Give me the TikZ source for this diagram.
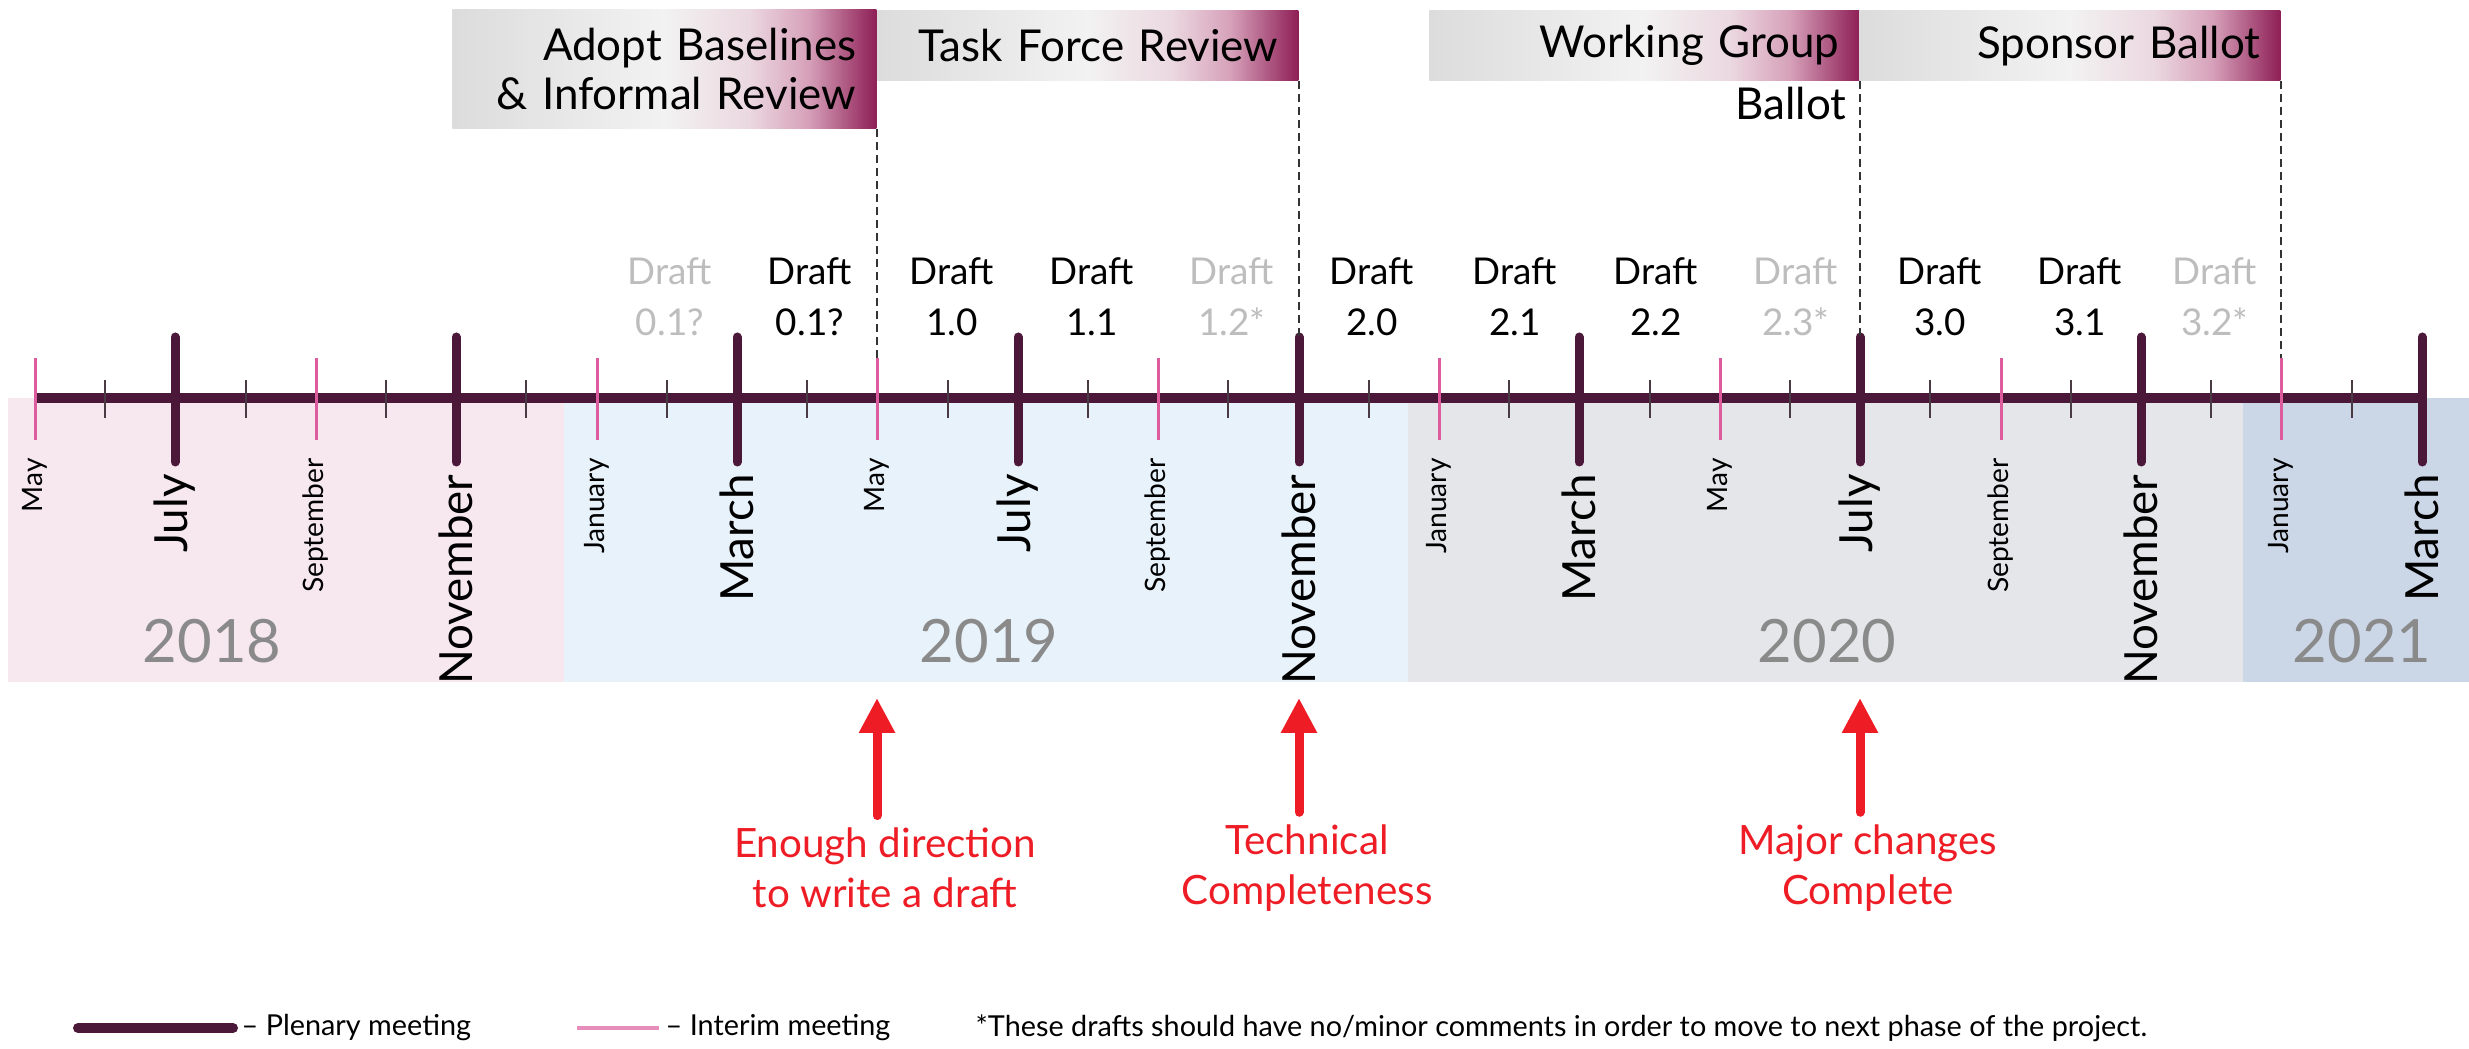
\documentclass[tikz,border=0pt]{standalone}
\usepackage{fontspec}
\setmainfont{Lato}
\usetikzlibrary{arrows.meta}
\usetikzlibrary{positioning}

\definecolor{plenarycol}{HTML}{4B1839}
\definecolor{interimcol}{HTML}{DD5C9E}
\definecolor{minorcol}{HTML}{4A3A44}
\definecolor{band18}{HTML}{F7E8EF}
\definecolor{band19}{HTML}{E8F2FA}
\definecolor{band20}{HTML}{E4E6E9}
\definecolor{band21}{HTML}{CBD6E7}
\definecolor{yeargray}{HTML}{8A8A8A}
\definecolor{draftgray}{HTML}{BDBDBD}
\definecolor{goalred}{HTML}{EE1C25}
\definecolor{phgray}{HTML}{DCDCDC}
\definecolor{phlight}{HTML}{F2F2F2}
\definecolor{phmid}{HTML}{EBD8E0}
\definecolor{phpink}{HTML}{D6A0B9}
\definecolor{phred}{HTML}{8E1F56}
\pgfdeclarehorizontalshading{phase}{100bp}{color(0bp)=(phgray); color(25bp)=(phgray); color(50bp)=(phlight); color(60bp)=(phmid); color(67bp)=(phpink); color(75bp)=(phred); color(100bp)=(phred)}

\tikzset{plenary/.style = {plenarycol, line width = 0.09cm, line cap = round}}
\tikzset{interim/.style = {interimcol, line width = 0.03cm}}
\tikzset{minor/.style = {minorcol, line width = 0.025cm}}
\tikzset{bigmonth/.style = {rotate = 90, anchor = east, text = black, inner xsep = 0.08cm, inner ysep = 0, font = \fontsize{13}{13}\selectfont}}
\tikzset{smallmonth/.style = {rotate = 90, anchor = east, text = black, inner xsep = 0.17cm, inner ysep = 0, font = \fontsize{8}{8}\selectfont}}
\tikzset{year/.style = {text = yeargray, font = \fontsize{17}{17}\selectfont}}
\tikzset{draft/.style = {align = center, font = \fontsize{10.5}{14.5}\selectfont}}
\tikzset{phasebox/.style = {shade, shading = phase, anchor = north east, inner xsep = 0.2cm, align = right, font = \fontsize{12.5}{14}\selectfont}}
\tikzset{phaseend/.style = {black!80, line width = 0.02cm, dash pattern = on 0.08cm off 0.05cm}}
\tikzset{goal/.style = {text = goalred, align = center, font = \fontsize{11.5}{14.2}\selectfont}}
\tikzset{goalarrow/.style = {goalred, line width = 0.09cm, line cap = round, -{Triangle[length = 0.35cm, width = 0.34cm]}}}
\tikzset{keytext/.style = {anchor = west, inner xsep = 0.03cm, font = \fontsize{8.2}{8.2}\selectfont}}

\begin{document}
\begin{tikzpicture}
    \useasboundingbox (0, 0) rectangle (24.69, 10.48);

    \fill[band18] (0.08, 6.50) rectangle (5.64, 3.66);
    \fill[band19] (5.64, 6.50) rectangle (14.08, 3.66);
    \fill[band20] (14.08, 6.50) rectangle (22.43, 3.66);
    \fill[band21] (22.43, 6.50) rectangle (24.69, 3.66);

    \node[year] (y2018) at (2.12, 4.07) {2018};
    \node[year] (y2019) at (9.89, 4.07) {2019};
    \node[year] (y2020) at (18.27, 4.07) {2020};
    \node[year] (y2021) at (23.62, 4.07) {2021};

    \draw[plenarycol, line width = 0.10cm] (0.35, 6.50) -- (24.22, 6.50);

    \draw[minor] (1.05, 6.68) -- (1.05, 6.30);
    \draw[minor] (2.46, 6.68) -- (2.46, 6.30);
    \draw[minor] (3.86, 6.68) -- (3.86, 6.30);
    \draw[minor] (5.26, 6.68) -- (5.26, 6.30);
    \draw[minor] (6.67, 6.68) -- (6.67, 6.30);
    \draw[minor] (8.07, 6.68) -- (8.07, 6.30);
    \draw[minor] (9.48, 6.68) -- (9.48, 6.30);
    \draw[minor] (10.88, 6.68) -- (10.88, 6.30);
    \draw[minor] (12.28, 6.68) -- (12.28, 6.30);
    \draw[minor] (13.69, 6.68) -- (13.69, 6.30);
    \draw[minor] (15.09, 6.68) -- (15.09, 6.30);
    \draw[minor] (16.50, 6.68) -- (16.50, 6.30);
    \draw[minor] (17.90, 6.68) -- (17.90, 6.30);
    \draw[minor] (19.30, 6.68) -- (19.30, 6.30);
    \draw[minor] (20.71, 6.68) -- (20.71, 6.30);
    \draw[minor] (22.11, 6.68) -- (22.11, 6.30);
    \draw[minor] (23.52, 6.68) -- (23.52, 6.30);

    \draw[interim] (0.35, 6.90) -- (0.35, 6.08) node[smallmonth] (may18) {May};
    \draw[interim] (3.16, 6.90) -- (3.16, 6.08) node[smallmonth] (sep18) {September};
    \draw[interim] (5.97, 6.90) -- (5.97, 6.08) node[smallmonth] (jan19) {January};
    \draw[interim] (8.77, 6.90) -- (8.77, 6.08) node[smallmonth] (may19) {May};
    \draw[interim] (11.58, 6.90) -- (11.58, 6.08) node[smallmonth] (sep19) {September};
    \draw[interim] (14.39, 6.90) -- (14.39, 6.08) node[smallmonth] (jan20) {January};
    \draw[interim] (17.20, 6.90) -- (17.20, 6.08) node[smallmonth] (may20) {May};
    \draw[interim] (20.01, 6.90) -- (20.01, 6.08) node[smallmonth] (sep20) {September};
    \draw[interim] (22.81, 6.90) -- (22.81, 6.08) node[smallmonth] (jan21) {January};

    \draw[plenary] (1.75, 7.11) -- (1.75, 5.86) node[bigmonth] (jul18) {July};
    \draw[plenary] (4.56, 7.11) -- (4.56, 5.86) node[bigmonth] (nov18) {November};
    \draw[plenary] (7.37, 7.11) -- (7.37, 5.86) node[bigmonth] (mar19) {March};
    \draw[plenary] (10.18, 7.11) -- (10.18, 5.86) node[bigmonth] (jul19) {July};
    \draw[plenary] (12.99, 7.11) -- (12.99, 5.86) node[bigmonth] (nov19) {November};
    \draw[plenary] (15.79, 7.11) -- (15.79, 5.86) node[bigmonth] (mar20) {March};
    \draw[plenary] (18.60, 7.11) -- (18.60, 5.86) node[bigmonth] (jul20) {July};
    \draw[plenary] (21.41, 7.11) -- (21.41, 5.86) node[bigmonth] (nov20) {November};
    \draw[plenary] (24.22, 7.11) -- (24.22, 5.86) node[bigmonth] (mar21) {March};

    \node[draft, text = draftgray] (d01a) at (6.70, 7.51) {Draft\\0.1?};
    \node[draft] (d01b) at (8.10, 7.51) {Draft\\0.1?};
    \node[draft] (d10) at (9.52, 7.51) {Draft\\1.0};
    \node[draft] (d11) at (10.92, 7.51) {Draft\\1.1};
    \node[draft, text = draftgray] (d12) at (12.32, 7.51) {Draft\\1.2*};
    \node[draft] (d20) at (13.72, 7.51) {Draft\\2.0};
    \node[draft] (d21) at (15.15, 7.51) {Draft\\2.1};
    \node[draft] (d22) at (16.56, 7.51) {Draft\\2.2};
    \node[draft, text = draftgray] (d23) at (17.96, 7.51) {Draft\\2.3*};
    \node[draft] (d30) at (19.40, 7.51) {Draft\\3.0};
    \node[draft] (d31) at (20.80, 7.51) {Draft\\3.1};
    \node[draft, text = draftgray] (d32) at (22.15, 7.51) {Draft\\3.2*};

    \node[phasebox, text width = 3.84cm, minimum height = 1.19cm] (adopt) at (8.77, 10.39) {Adopt Baselines\\\& Informal Review};
    \node[phasebox, text width = 3.81cm, minimum height = 0.70cm] (tfr) at (12.99, 10.38) {Task Force Review};
    \node[phasebox, text width = 3.90cm, minimum height = 0.70cm] (wg) at (18.60, 10.38) {Working Group};
    \node[phasebox, text width = 3.81cm, minimum height = 0.70cm] (sb) at (22.81, 10.38) {Sponsor Ballot};
    \node[anchor = north east, inner xsep = 0.13cm, inner ysep = 0.05cm, font = \fontsize{12.5}{14}\selectfont] (wgballot) at (wg.south east) {Ballot};

    \coordinate (endadopt) at (8.77, 6.90);
    \coordinate (endtfr) at (12.99, 7.11);
    \coordinate (endwg) at (18.60, 7.11);
    \coordinate (endsb) at (22.81, 6.90);
    \draw[phaseend] (adopt.south east) -- (endadopt);
    \draw[phaseend] (tfr.south east) -- (endtfr);
    \draw[phaseend] (wg.south east) -- (endwg);
    \draw[phaseend] (sb.south east) -- (endsb);

    \node[goal] (draftgoal) at (8.85, 1.80) {Enough direction\\to write a draft};
    \node[goal] (techgoal) at (13.07, 1.80) {Technical\\Completeness};
    \node[goal] (majorgoal) at (18.68, 1.80) {Major changes\\Complete};
    \coordinate (drafttip) at (8.77, 3.50);
    \coordinate (techtip) at (12.99, 3.50);
    \coordinate (majortip) at (18.60, 3.50);
    \draw[goalarrow] (draftgoal.north -| drafttip) -- (drafttip);
    \draw[goalarrow] (techgoal.north -| techtip) -- (techtip);
    \draw[goalarrow] (majorgoal.north -| majortip) -- (majortip);

    \node[keytext] (plenkey) at (2.38, 0.20) {-- Plenary meeting};
    \node[keytext] (interimkey) at (6.62, 0.20) {-- Interim meeting};
    \node[keytext] (notekey) at (9.72, 0.20) {*These drafts should have no/minor comments in order to move to next phase of the project.};
    \draw[plenary, line width = 0.10cm] (0.78, 0.20) -- ([xshift = -0.05cm]plenkey.west);
    \draw[interimcol!70, line width = 0.04cm] (5.77, 0.20) -- ([xshift = -0.03cm]interimkey.west);
\end{tikzpicture}
\end{document}
